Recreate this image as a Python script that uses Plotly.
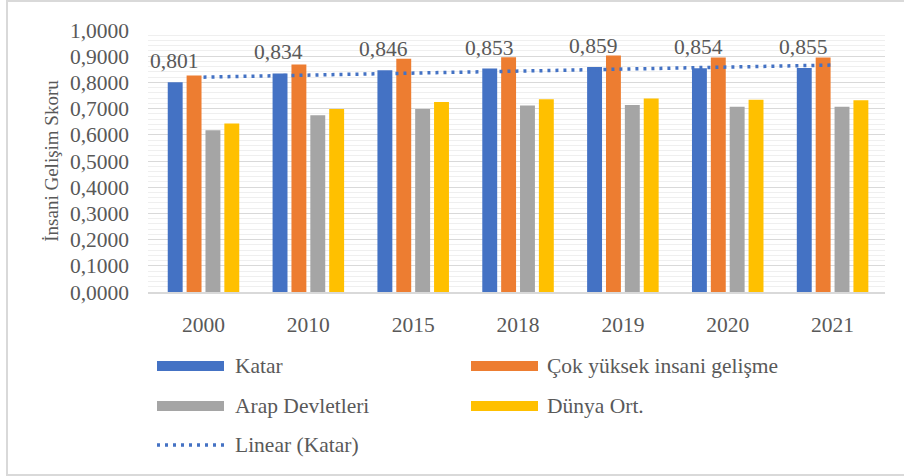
import numpy as np
import plotly.graph_objects as go

years = ["2000", "2010", "2015", "2018", "2019", "2020", "2021"]
katar = [0.801, 0.834, 0.846, 0.853, 0.859, 0.854, 0.855]
cok_yuksek = [0.826, 0.868, 0.890, 0.896, 0.903, 0.895, 0.895]
arap = [0.617, 0.675, 0.698, 0.712, 0.714, 0.707, 0.707]
dunya = [0.643, 0.698, 0.725, 0.736, 0.739, 0.734, 0.732]

series_names = ["Katar", "Çok yüksek insani gelişme", "Arap Devletleri", "Dünya Ort."]
colors = ["#4472C4", "#ED7D31", "#A5A5A5", "#FFC000"]
trend_name = "Linear (Katar)"

W, H = 904, 476
L, R, T, B = 148, 19, 30, 184
PW, PH = W - L - R, H - T - B

def px(x):
    return (x - L) / PW

def py(y):
    return (H - B - y) / PH

TXT = "#595959"
FONT = "Liberation Serif"
FS = 21.5

fig = go.Figure()
for name, vals, col in zip(series_names, [katar, cok_yuksek, arap, dunya], colors):
    fig.add_trace(go.Bar(x=years, y=vals, name=name, marker=dict(color=col, line=dict(width=0)),
                         showlegend=False))

# linear trendline of Katar
xi = np.arange(1, len(katar) + 1)
coef = np.polyfit(xi, katar, 1)
trend = list(np.polyval(coef, xi))
fig.add_trace(go.Scatter(x=years, y=trend, mode="lines", name=trend_name,
                         line=dict(color="#4472C4", width=3.5, dash="3px,5px"), showlegend=False))

# data labels for Katar (category axis: annotation x is the category index)
for i, v in enumerate(katar):
    fig.add_annotation(x=i, y=v, xref="x", yref="y", text=f"{v:.3f}".replace(".", ","),
                       showarrow=False, xshift=-29.5, yshift=7, yanchor="bottom",
                       font=dict(family=FONT, size=FS, color=TXT))

shapes = []
# outer border
shapes.append(dict(type="rect", xref="paper", yref="paper", x0=px(7), x1=px(915), y0=py(1), y1=py(475),
                   line=dict(color="#d9d9d9", width=2), fillcolor="rgba(0,0,0,0)", layer="below"))

# manual legend
rows = [366, 406, 445]
cols = [(157, 224, 233), (471, 538, 545)]
items = [(0, 0, 0), (1, 0, 1), (2, 1, 0), (3, 1, 1)]
for idx, r, c in items:
    x0, x1, xt = cols[c]
    y = rows[r]
    shapes.append(dict(type="rect", xref="paper", yref="paper", x0=px(x0), x1=px(x1),
                       y0=py(y + 5), y1=py(y - 5), line=dict(width=0), fillcolor=colors[idx]))
    fig.add_annotation(x=px(xt), y=py(y), xref="paper", yref="paper", text=series_names[idx],
                       showarrow=False, xanchor="left", yanchor="middle",
                       font=dict(family=FONT, size=FS, color=TXT))
shapes.append(dict(type="line", xref="paper", yref="paper", x0=px(157), x1=px(224), y0=py(445), y1=py(445),
                   line=dict(color="#4472C4", width=3.5, dash="3px,5px")))
fig.add_annotation(x=px(233), y=py(445), xref="paper", yref="paper", text=trend_name,
                   showarrow=False, xanchor="left", yanchor="middle",
                   font=dict(family=FONT, size=FS, color=TXT))

fig.update_layout(
    width=W, height=H,
    margin=dict(l=L, r=R, t=T, b=B, pad=0, autoexpand=False),
    paper_bgcolor="white", plot_bgcolor="white",
    barmode="group", bargap=0.28, bargroupgap=0.21,
    separators=",.",
    shapes=shapes,
    font=dict(family=FONT, color=TXT),
    showlegend=False,
)
fig.update_xaxes(type="category", showgrid=False, showline=True, linecolor="#d9d9d9", linewidth=2,
                 tickfont=dict(family=FONT, size=FS, color=TXT), ticks="", ticklabelstandoff=12,
                 automargin=False)
fig.update_yaxes(range=[0, 1.0], dtick=0.1, tickformat=".4f", showgrid=True, gridcolor="#d9d9d9",
                 gridwidth=1, zeroline=False, automargin=False,
                 minor=dict(dtick=0.02, showgrid=True, gridcolor="#efefef", gridwidth=1),
                 tickfont=dict(family=FONT, size=FS, color=TXT), ticks="", ticklabelstandoff=18,
                 title=dict(text="İnsani Gelişim Skoru", standoff=6, font=dict(family=FONT, size=19, color=TXT)))

fig.write_html("out.html", config={"displayModeBar": False},
               post_script="document.body.style.margin='0';")
